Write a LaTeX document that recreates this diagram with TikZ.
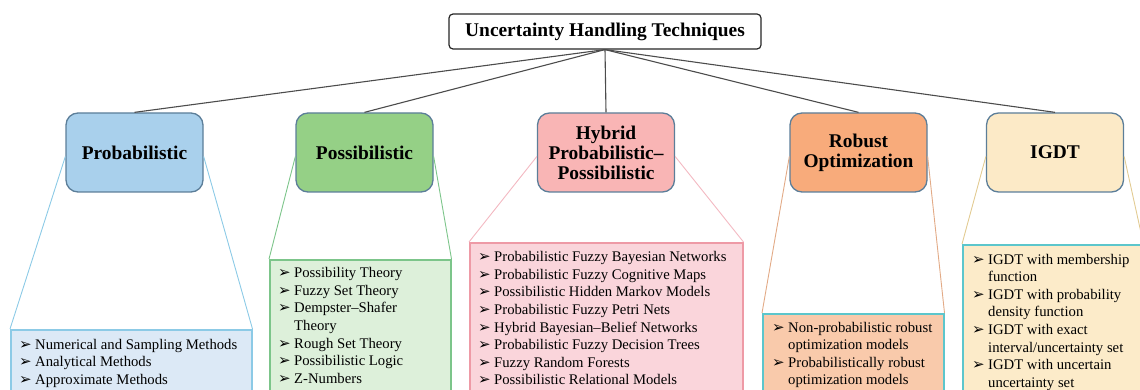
\documentclass[tikz,border=0pt]{standalone}
\usepackage{fontspec}
\setmainfont{Liberation Serif}
\newfontfamily\symfont{DejaVu Sans}
\usetikzlibrary{calc}

% colours
\definecolor{frameslate}{HTML}{5C7E99}
\definecolor{probfill}{HTML}{A9D0EC}
\definecolor{probline}{HTML}{8CCAE6}
\definecolor{problist}{HTML}{DCE9F6}
\definecolor{possfill}{HTML}{95D086}
\definecolor{possline}{HTML}{7CC58A}
\definecolor{posslist}{HTML}{DDF0DA}
\definecolor{hybfill}{HTML}{F9B5B5}
\definecolor{hybline}{HTML}{EE9AA6}
\definecolor{hyblist}{HTML}{FAD5DB}
\definecolor{robfill}{HTML}{F8AB7B}
\definecolor{robline}{HTML}{E2AA86}
\definecolor{roblist}{HTML}{F9CAAB}
\definecolor{igdtfill}{HTML}{FCEAC7}
\definecolor{igdtline}{HTML}{E2CB92}
\definecolor{igdtlist}{HTML}{FCEBC9}
\definecolor{tealframe}{HTML}{5CC6CC}

% bullet and list helpers
\newcommand{\bul}{\makebox[16pt][l]{\fontsize{15}{15}\selectfont\symfont ➢}}
\newcommand{\itemlist}[1]{\begin{tabular}[t]{@{}l@{}l@{}}#1\end{tabular}}

\tikzset{
  headbox/.style={draw=black!85, line width=1.2pt, fill=white, rounded corners=4pt,
    minimum width=312pt, minimum height=35pt, inner sep=0pt,
    font=\fontsize{19.4}{20}\selectfont\bfseries},
  catbox/.style={draw=frameslate, line width=1.3pt, rounded corners=12pt,
    minimum width=137pt, minimum height=79pt, inner sep=0pt, align=center,
    font=\fontsize{19.4}{20}\selectfont\bfseries},
  listbox/.style={rectangle, line width=1.5pt, anchor=north west, inner sep=0pt},
  listtext/.style={anchor=base west, inner sep=0pt,
    font=\fontsize{14.7}{17.6}\selectfont},
  trunk/.style={draw=black!70, line width=1.1pt},
  flank/.style={line width=0.9pt},
}

\begin{document}
\begin{tikzpicture}[x=1pt, y=-1pt]
\useasboundingbox (0,0) rectangle (1140,390);
\clip (0,0) rectangle (1140,390);

% category boxes
\node[headbox] (root) at (605,31.5) {Uncertainty Handling Techniques};
\node[catbox, fill=probfill] (prob) at (134.5,152.5) {Probabilistic};
\node[catbox, fill=possfill] (poss) at (364.5,152.5) {Possibilistic};
\node[catbox, fill=hybfill]  (hyb)  at (606,152.5) {Hybrid\\Probabilistic–\\Possibilistic};
\node[catbox, fill=robfill]  (rob)  at (858.5,152.5) {Robust\\Optimization};
\node[catbox, fill=igdtfill] (igdt) at (1055,152.5) {IGDT};

% trunk lines
\foreach \c in {prob,poss,hyb,rob,igdt}
  \draw[trunk] (root.south) -- (\c.north);

% detail boxes
\node[listbox, draw=probline, fill=problist, minimum width=241pt, minimum height=75pt]
  (probL) at (10,329) {};
\node[listbox, draw=possline, fill=posslist, minimum width=181pt, minimum height=145pt]
  (possL) at (269,259) {};
\node[listbox, draw=hybline, fill=hyblist, minimum width=273pt, minimum height=162pt]
  (hybL) at (469,242) {};
\node[listbox, draw=tealframe, fill=roblist, minimum width=181pt, minimum height=91pt]
  (robL) at (762,313) {};
\node[listbox, draw=tealframe, fill=igdtlist, minimum width=180pt, minimum height=160pt]
  (igdtL) at (962,244) {};

% flanks joining each category to its detail box
\draw[flank, draw=probline] ([yshift=-4pt]prob.west) -- (probL.north west)
  ([yshift=-4pt]prob.east) -- (probL.north east);
\draw[flank, draw=possline] ([yshift=-4pt]poss.west) -- (possL.north west)
  ([yshift=-4pt]poss.east) -- (possL.north east);
\draw[flank, draw=hybline!70] ([yshift=-4pt]hyb.west) -- (hybL.north west)
  ([yshift=-4pt]hyb.east) -- (hybL.north east);
\draw[flank, draw=robline] ([yshift=-4pt]rob.west) -- (robL.north west)
  ([yshift=-4pt]rob.east) -- (robL.north east);
\draw[flank, draw=igdtline] ([yshift=-4pt]igdt.west) -- (igdtL.north west)
  ([yshift=-4pt]igdt.east) -- (igdtL.north east);

% list contents
\node[listtext] (probT) at (19,349) {\itemlist{
  \bul & Numerical and Sampling Methods\\
  \bul & Analytical Methods\\
  \bul & Approximate Methods\\}};
\node[listtext] (possT) at (278,277.6) {\itemlist{
  \bul & Possibility Theory\\
  \bul & Fuzzy Set Theory\\
  \bul & Dempster–Shafer\\
       & Theory\\
  \bul & Rough Set Theory\\
  \bul & Possibilistic Logic\\
  \bul & Z-Numbers\\}};
\node[listtext] (hybT) at (478,261.6) {\itemlist{
  \bul & Probabilistic Fuzzy Bayesian Networks\\
  \bul & Probabilistic Fuzzy Cognitive Maps\\
  \bul & Possibilistic Hidden Markov Models\\
  \bul & Probabilistic Fuzzy Petri Nets\\
  \bul & Hybrid Bayesian–Belief Networks\\
  \bul & Probabilistic Fuzzy Decision Trees\\
  \bul & Fuzzy Random Forests\\
  \bul & Possibilistic Relational Models\\}};
\node[listtext] (robT) at (772,332) {\itemlist{
  \bul & Non-probabilistic robust\\
       & optimization models\\
  \bul & Probabilistically robust\\
       & optimization models\\}};
\node[listtext] (igdtT) at (972,264) {\itemlist{
  \bul & IGDT with membership\\
       & function\\
  \bul & IGDT with probability\\
       & density function\\
  \bul & IGDT with exact\\
       & interval/uncertainty set\\
  \bul & IGDT with uncertain\\
       & uncertainty set\\}};
\end{tikzpicture}
\end{document}
